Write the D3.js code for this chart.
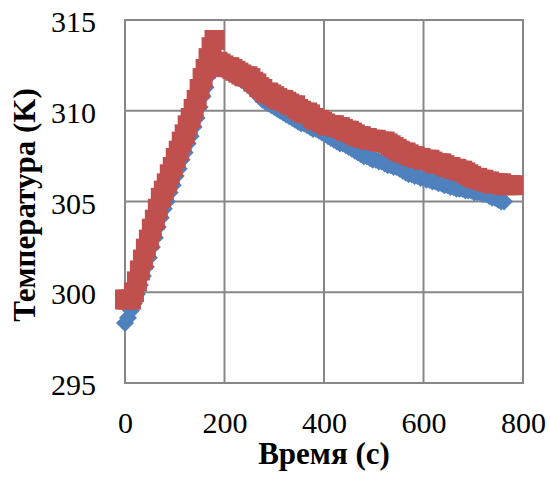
<!DOCTYPE html>
<html>
<head>
<meta charset="utf-8">
<script src="https://cdn.jsdelivr.net/npm/d3@7"></script>
<style>
  html, body { margin: 0; padding: 0; background: #fff; }
  svg text { font-family: "Times New Roman", "Liberation Serif", serif; fill: #000; }
</style>
</head>
<body>
<div id="chart"></div>
<script>
// sampling times, s
const time = [
  0, 6, 12, 18, 24, 30, 36, 42, 48, 54, 60, 66, 72, 78, 84, 90, 96, 102, 108, 114,
  120, 126, 132, 138, 144, 150, 156, 162, 168, 174, 180, 186, 192, 198, 204, 210, 216, 222, 228, 234,
  240, 246, 252, 258, 264, 270, 276, 282, 288, 294, 300, 306, 312, 318, 324, 330, 336, 342, 348, 354,
  360, 366, 372, 378, 384, 390, 396, 402, 408, 414, 420, 426, 432, 438, 444, 450, 456, 462, 468, 474,
  480, 486, 492, 498, 504, 510, 516, 522, 528, 534, 540, 546, 552, 558, 564, 570, 576, 582, 588, 594,
  600, 606, 612, 618, 624, 630, 636, 642, 648, 654, 660, 666, 672, 678, 684, 690, 696, 702, 708, 714,
  720, 726, 732, 738, 744, 750, 756, 762, 768, 774, 780
];

// blue diamonds, K
const tempBlue = [
  298.3, 298.6, 299.0, 299.4, 299.9, 300.4, 300.9, 301.4, 301.9, 302.5, 303.0, 303.6, 304.1, 304.6, 305.0, 305.5, 305.9, 306.4, 306.8, 307.3,
  307.7, 308.2, 308.6, 309.1, 309.6, 310.2, 310.8, 311.3, 311.9, 312.4, 312.9, 312.6, 312.4, 312.3, 312.2, 312.1, 312.0, 311.9, 311.8, 311.7,
  311.6, 311.5, 311.3, 311.2, 311.0, 310.8, 310.6, 310.5, 310.4, 310.3, 310.2, 310.1, 310.0, 309.9, 309.8, 309.7, 309.6, 309.5, 309.4, 309.3,
  309.3, 309.2, 309.1, 309.0, 309.0, 308.9, 308.8, 308.7, 308.6, 308.5, 308.4, 308.3, 308.2, 308.2, 308.1, 308.0, 307.9, 307.8, 307.7, 307.6,
  307.5, 307.5, 307.4, 307.3, 307.3, 307.2, 307.2, 307.1, 307.0, 307.0, 306.9, 306.9, 306.8, 306.7, 306.6, 306.5, 306.5, 306.4, 306.4, 306.3,
  306.3, 306.2, 306.2, 306.1, 306.1, 306.0, 306.0, 305.9, 305.9, 305.8, 305.8, 305.7, 305.7, 305.7, 305.6, 305.6, 305.6, 305.5, 305.5, 305.5,
  305.4, 305.4, 305.3, 305.2, 305.2, 305.1, 305.0, 305.0
];

// red squares, K
const tempRed = [
  299.6, 299.6, 299.6, 300.0, 300.6, 301.2, 301.8, 302.4, 302.9, 303.5, 304.0, 304.6, 305.2, 305.6, 306.0, 306.5, 306.9, 307.4, 307.8, 308.3,
  308.7, 309.2, 309.6, 310.1, 310.6, 311.2, 311.8, 312.3, 312.9, 313.5, 313.9, 312.7, 312.6, 312.5, 312.4, 312.4, 312.3, 312.2, 312.1, 312.0,
  311.9, 311.9, 311.8, 311.6, 311.5, 311.3, 311.2, 311.0, 311.0, 310.9, 310.8, 310.7, 310.6, 310.6, 310.5, 310.4, 310.3, 310.3, 310.1, 310.0,
  309.9, 309.9, 309.8, 309.6, 309.5, 309.5, 309.4, 309.3, 309.2, 309.2, 309.2, 309.1, 309.1, 309.0, 308.9, 308.9, 308.8, 308.7, 308.6, 308.6,
  308.5, 308.5, 308.4, 308.4, 308.4, 308.3, 308.3, 308.3, 308.2, 308.1, 308.0, 307.9, 307.8, 307.7, 307.7, 307.6, 307.5, 307.5, 307.4, 307.4,
  307.3, 307.3, 307.3, 307.2, 307.1, 307.1, 307.1, 307.0, 306.9, 306.9, 306.8, 306.8, 306.7, 306.7, 306.6, 306.5, 306.4, 306.3, 306.3, 306.2,
  306.2, 306.1, 306.1, 306.0, 306.0, 306.0, 306.0, 305.9, 305.9, 305.9, 305.9
];

const xTicks = [0, 200, 400, 600, 800];
const yTicks = [295, 300, 305, 310, 315];
const xTitle = 'Время (с)';
const yTitle = 'Температура (K)';

const width = 550, height = 490;
const margin = { top: 20, right: 27, bottom: 107, left: 125 };
const serif = '"Times New Roman", "Liberation Serif", serif';

const svg = d3.select('#chart').append('svg')
  .attr('width', width)
  .attr('height', height);

const x = d3.scaleLinear()
  .domain([0, 800])
  .range([margin.left, width - margin.right]);
const y = d3.scaleLinear()
  .domain([295, 315])
  .range([height - margin.bottom, margin.top]);

const gridColor = '#878787';

// grid
svg.append('g')
  .selectAll('line')
  .data(yTicks)
  .enter().append('line')
  .attr('x1', x(0)).attr('x2', x(800))
  .attr('y1', d => y(d)).attr('y2', d => y(d))
  .attr('stroke', gridColor)
  .attr('stroke-width', 2);

svg.append('g')
  .selectAll('line')
  .data(xTicks)
  .enter().append('line')
  .attr('x1', d => x(d)).attr('x2', d => x(d))
  .attr('y1', y(295) + 1).attr('y2', y(315) - 1)
  .attr('stroke', gridColor)
  .attr('stroke-width', 2);

// axes: only the labels are shown
const xAxis = d3.axisBottom(x).tickValues(xTicks).tickSize(0).tickPadding(0);
const yAxis = d3.axisLeft(y).tickValues(yTicks).tickSize(0).tickPadding(0);

const gx = svg.append('g')
  .attr('font-family', serif)
  .attr('transform', 'translate(0,' + y(295) + ')')
  .call(xAxis);
gx.select('.domain').remove();
gx.selectAll('text')
  .attr('font-size', 30)
  .attr('fill', '#000')
  .attr('dy', null)
  .attr('y', 50);

const gy = svg.append('g')
  .attr('font-family', serif)
  .attr('transform', 'translate(' + (margin.left - 29) + ',0)')
  .call(yAxis);
gy.select('.domain').remove();
gy.selectAll('text')
  .attr('font-size', 30)
  .attr('fill', '#000')
  .attr('dy', null)
  .attr('y', 11.5);

// series
const blueData = tempBlue.map((v, i) => [time[i], v]);
const redData = tempRed.map((v, i) => [time[i], v]);

const diamond = d3.symbol().type(d3.symbolSquare).size(162);
const square = d3.symbol().type(d3.symbolSquare).size(400);

svg.append('g')
  .selectAll('path')
  .data(blueData)
  .enter().append('path')
  .attr('d', diamond)
  .attr('transform', d => 'translate(' + x(d[0]) + ',' + y(d[1]) + ') rotate(45)')
  .attr('fill', '#4F81BD');

svg.append('g')
  .selectAll('path')
  .data(redData)
  .enter().append('path')
  .attr('d', square)
  .attr('transform', d => 'translate(' + x(d[0]) + ',' + y(d[1]) + ')')
  .attr('fill', '#C0504D');

// titles
svg.append('text')
  .attr('x', (x(0) + x(800)) / 2)
  .attr('y', 464)
  .attr('text-anchor', 'middle')
  .attr('font-size', 31)
  .attr('font-weight', 'bold')
  .text(xTitle);

svg.append('text')
  .attr('transform', 'translate(35,205) rotate(-90)')
  .attr('text-anchor', 'middle')
  .attr('font-size', 31)
  .attr('font-weight', 'bold')
  .text(yTitle);
</script>
</body>
</html>
